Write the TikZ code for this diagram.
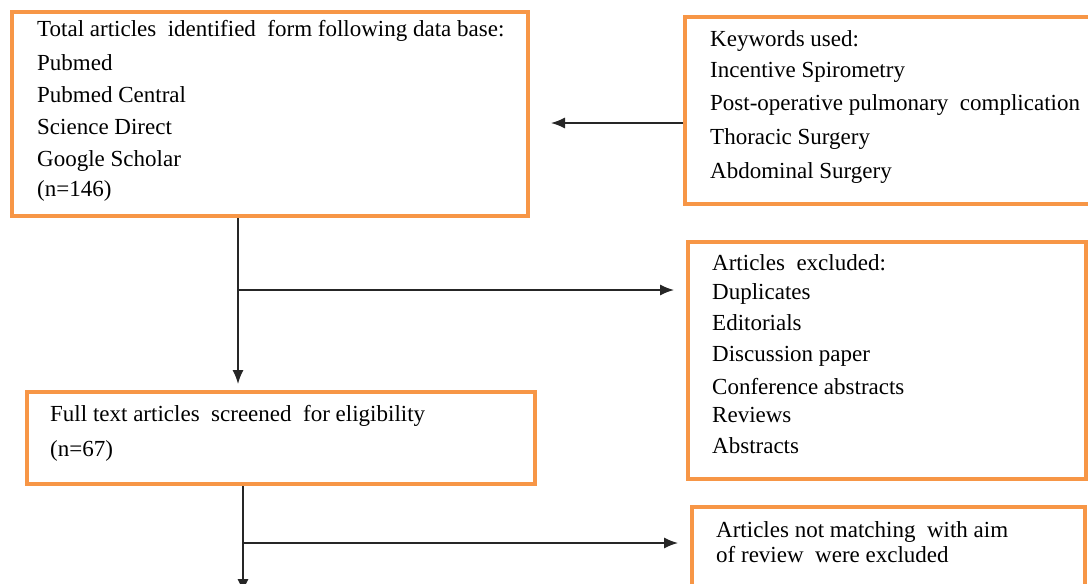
\documentclass[tikz,border=0pt]{standalone}
\usepackage{fontspec}
\setmainfont{Liberation Serif}
\usetikzlibrary{arrows.meta}
\definecolor{boxorange}{HTML}{F79646}
\begin{document}
\begin{tikzpicture}[x=1pt,y=-1pt,
  box/.style={draw=boxorange, line width=4pt, inner sep=0pt, anchor=north west},
  txt/.style={anchor=base west, inner sep=0pt, font=\fontsize{23}{26}\selectfont},
  conn/.style={line width=1.4pt, draw=black!85, -{Latex[length=14pt,width=11pt]}}
]
\useasboundingbox (0,0) rectangle (1088,584);
\clip (0,0) rectangle (1088,584);
% boxes
\node[box, minimum width=516pt, minimum height=204pt] (b1) at (10,10) {};
\node[box, minimum width=412pt, minimum height=187pt] (b2) at (683,15) {};
\node[box, minimum width=398pt, minimum height=237pt] (b4) at (686,240) {};
\node[box, minimum width=508pt, minimum height=92pt] (b3) at (25,390) {};
\node[box, minimum width=393pt, minimum height=110pt] (b5) at (690,505) {};
% texts
\node[txt] (t1a) at (37,36) {Total articles\ \ identified\ \ form following data base:};
\node[txt] (t1b) at (37,70) {Pubmed};
\node[txt] (t1c) at (37,102) {Pubmed Central};
\node[txt] (t1d) at (37,134) {Science Direct};
\node[txt] (t1e) at (37,166) {Google Scholar};
\node[txt] (t1f) at (37,196) {(n=146)};
\node[txt] (t2a) at (710,46) {Keywords used:};
\node[txt] (t2b) at (710,77) {Incentive Spirometry};
\node[txt] (t2c) at (710,110) {Post-operative pulmonary\ \ complication};
\node[txt] (t2d) at (710,144) {Thoracic Surgery};
\node[txt] (t2e) at (710,178) {Abdominal Surgery};
\node[txt] (t4a) at (712,270) {Articles\ \ excluded:};
\node[txt] (t4b) at (712,299) {Duplicates};
\node[txt] (t4c) at (712,330) {Editorials};
\node[txt] (t4d) at (712,361) {Discussion paper};
\node[txt] (t4e) at (712,394) {Conference abstracts};
\node[txt] (t4f) at (712,422) {Reviews};
\node[txt] (t4g) at (712,453) {Abstracts};
\node[txt] (t3a) at (50,421) {Full text articles\ \ screened\ \ for eligibility};
\node[txt] (t3b) at (50,456) {(n=67)};
\node[txt] (t5a) at (716,537) {Articles not matching\ \ with aim};
\node[txt] (t5b) at (716,562) {of review\ \ were excluded};
% connector helpers
\coordinate (v1) at (238,0);
\coordinate (v2) at (243,0);
\coordinate (h0) at (0,123);
\coordinate (h1) at (0,290);
\coordinate (h2) at (0,543);
\coordinate (bend) at (243,593);
% connectors
\draw[conn, shorten >=21pt] (b2.west |- h0) -- (b1.east |- h0);
\draw[conn, shorten >=6pt] (b1.south -| v1) -- (b3.north -| v1);
\draw[conn, shorten >=12pt] (v1 |- h1) -- (b4.west |- h1);
\draw[conn] (b3.south -| v2) -- (bend);
\draw[conn, shorten >=12pt] (v2 |- h2) -- (b5.west |- h2);
\end{tikzpicture}
\end{document}
